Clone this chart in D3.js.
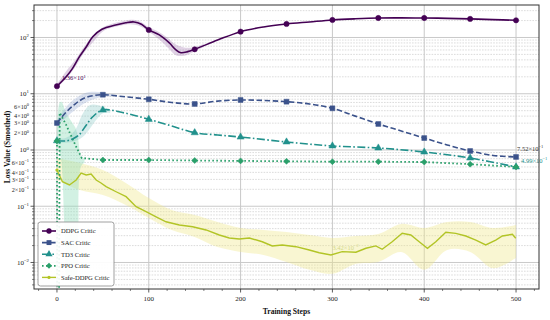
<!DOCTYPE html>
<html><head><meta charset="utf-8">
<script src="https://cdn.jsdelivr.net/npm/d3@7"></script>
<style>body{margin:0;background:#fff}svg{display:block}text{font-family:"Liberation Serif","Times New Roman",serif}</style>
</head><body><svg id="c" width="550" height="320"></svg>
<script>
// ---------------- data ----------------
const seriesNames = ["DDPG Critic","SAC Critic","TD3 Critic","PPO Critic","Safe-DDPG Critic"];
const markerSteps = [0,50,100,150,200,250,300,350,400,450,500];
const xTicks = [0,100,200,300,400,500];

const ddpgSteps  = [0,10,17,24.5,32,39,49,64,75,84,92,100,111.5,122.4,129.7,135,142.3,150,175,200,225,250,275,300,325,350,375,400,425,450,475,500];
const ddpgValues = [13.6,20,28.3,45.6,68.6,103,140,167,183,189,172,136,111,80,60,53.7,56,61.7,90,127,154,174,189,205,215,222,223,222,219,214,208,202];
const ddpgBandSteps = [0,10,20,30,40,50,60,70,80,90,100,110,120,130,140,150,160];
const ddpgBandLo = [12.8,18.5,30,55,85,128,150,164,172,160,126,96,68,48,48,57,68];
const ddpgBandHi = [14.8,25,40,70,112,152,176,192,206,194,152,128,100,74,66,67,77];

const sacSteps  = [0,10,20,30,40,50,75,100,125,150,175,200,225,250,275,300,325,350,375,400,425,450,475,500];
const sacValues = [3.02,4.7,6.6,8.4,9.3,9.6,8.8,7.97,7.0,6.58,7.4,7.74,7.6,7.22,6.58,5.51,4.0,2.9,2.18,1.63,1.23,0.96,0.8,0.752];
const sacBandSteps = [0,10,20,30,40,50,60];
const sacBandLo = [2.7,3.8,5.2,6.8,8.0,8.8,8.9];
const sacBandHi = [3.4,5.8,8.2,10.2,10.8,10.5,9.8];

const td3Steps  = [0,10,17,24,32,39,50,75,100,125,150,175,200,250,300,350,400,450,500];
const td3Values = [1.46,1.45,1.57,1.85,2.78,3.9,5.14,4.5,3.51,2.67,2.03,1.85,1.7,1.39,1.18,1.085,0.92,0.72,0.499];
const td3BandSteps = [0,10,20,28,35,42,50,58];
const td3BandLo = [1.35,1.35,1.45,1.7,2.3,3.3,4.5,4.5];
const td3BandHi = [1.6,1.65,2.3,4.4,6.2,6.4,5.9,5.1];

const ppoSteps  = [0,1,3,10,20,27,50,100,150,200,250,300,350,400,450,500];
const ppoValues = [1.45,1e-9,4.6,2.8,1.23,0.72,0.664,0.664,0.65,0.64,0.63,0.62,0.62,0.61,0.56,0.5];
const ppoBandSteps = [0,3,5,9,12,20,23,26,30];
const ppoBandLo = [1.2,0.9,0.6,0.02,0.005,0.005,0.02,0.5,0.6];
const ppoBandHi = [2.0,7.0,7.2,5.0,4.0,2.5,1.6,0.8,0.7];

const safeSteps  = [0,6,13.6,20.9,26.3,31.8,37.2,42.7,48,53.5,64.4,75.3,86.2,97,108,118.8,133.3,147.8,162.4,176.8,187.7,198.6,209.5,223.6,234.5,245.4,260.3,274.8,285.6,298.4,310.7,325.6,336.5,347.3,354.2,365.1,376,385.4,394.5,403.5,412.6,423.5,434.4,445.3,456.2,467,477.9,485.1,496,499.7];
const safeValues = [0.44,0.273,0.239,0.293,0.39,0.36,0.374,0.293,0.259,0.223,0.181,0.148,0.098,0.080,0.065,0.053,0.0464,0.0433,0.0379,0.0308,0.0273,0.0262,0.0273,0.0234,0.0197,0.0205,0.0191,0.0167,0.0149,0.0136,0.0156,0.0152,0.0179,0.0197,0.0172,0.0234,0.033,0.0308,0.0234,0.0179,0.0234,0.0344,0.033,0.0296,0.0251,0.0205,0.0251,0.0296,0.0317,0.0269];
const safeBandSteps = [0,25,50,75,100,125,150,175,200,225,250,275,300,325,350,375,400,425,450,475,500];
const safeBandLo = [0.293,0.194,0.159,0.105,0.062,0.0379,0.0285,0.0188,0.0154,0.0136,0.0102,0.0074,0.0063,0.0094,0.0102,0.0154,0.0074,0.0167,0.0154,0.0079,0.0121];
const safeBandHi = [0.72,0.587,0.44,0.259,0.14,0.086,0.0699,0.0527,0.0412,0.0379,0.035,0.0308,0.0273,0.0296,0.0321,0.0484,0.0412,0.0527,0.0527,0.0412,0.0464];

const annotations = [
  {text:"1.36×10", sup:"1", step:0, value:13.6, dx:5, dy:-6, color:"#440154"},
  {text:"7.52×10", sup:"−1", step:500, value:0.752, dx:1, dy:-6, color:"#333333"},
  {text:"4.99×10", sup:"−1", step:500, value:0.499, dx:5, dy:-4, color:"#21918c"},
  {text:"3.42×10", sup:"−2", step:300, value:0.0136, dx:0, dy:-5, color:"#d4d98a"}
];

// ---------------- chart ----------------
const svg = d3.select("#c");
const L=34, R=539, T=5, B=289;
const x = d3.scaleLinear().domain([-25,525]).range([L,R]);
const y = d3.scaleLog().domain([0.00338,378]).range([B,T]);

const colors = ["#440154","#3b528b","#21918c","#2a9f6a","#b2c426"];
const bandColors = ["#a57fb5","#8aa3d2","#7cc4c0","#8fdcb8","#f0e889"];

svg.append("defs").append("clipPath").attr("id","clip")
  .append("rect").attr("x",L).attr("y",T).attr("width",R-L).attr("height",B-T);

const grid = svg.append("g");
const minors=[];
for(let e=-3;e<=2;e++) for(let k=2;k<=9;k++){const v=k*Math.pow(10,e); if(v>y.domain()[0]&&v<y.domain()[1]) minors.push(v);}
grid.selectAll(".mg").data(minors).join("line")
  .attr("x1",L).attr("x2",R).attr("y1",d=>y(d)).attr("y2",d=>y(d))
  .attr("stroke","#c4c4c4").attr("stroke-width",0.6).attr("stroke-dasharray","1.6,1.2");
const majors=[1e-2,1e-1,1,10,100];
grid.selectAll(".Mg").data(majors).join("line")
  .attr("x1",L).attr("x2",R).attr("y1",d=>y(d)).attr("y2",d=>y(d))
  .attr("stroke","#c4c4c4").attr("stroke-width",0.9);
grid.selectAll(".vg").data(xTicks).join("line")
  .attr("x1",d=>x(d)).attr("x2",d=>x(d)).attr("y1",T).attr("y2",B)
  .attr("stroke","#c8c8c8").attr("stroke-width",1);

const plot = svg.append("g").attr("clip-path","url(#clip)");

function band(steps,lo,hi,color,op){
  const data=steps.map((s,i)=>({s,lo:lo[i],hi:hi[i]}));
  plot.append("path").datum(data)
    .attr("d",d3.area().x(d=>x(d.s)).y0(d=>y(d.lo)).y1(d=>y(d.hi)).curve(d3.curveCatmullRom))
    .attr("fill",color).attr("opacity",op);
}
band(safeBandSteps,safeBandLo,safeBandHi,bandColors[4],0.38);
band(ppoBandSteps,ppoBandLo,ppoBandHi,bandColors[3],0.4);
band(td3BandSteps,td3BandLo,td3BandHi,bandColors[2],0.3);
band(sacBandSteps,sacBandLo,sacBandHi,bandColors[1],0.3);
band(ddpgBandSteps,ddpgBandLo,ddpgBandHi,bandColors[0],0.35);

const dashes = [null,"5.5,2.6","8,2.4,1.6,2.4","1.6,2.4",null];
const widths = [1.6,1.6,1.6,1.8,1.4];
function series(steps,vals,i,curve){
  const data=steps.map((s,j)=>({s,v:vals[j]}));
  plot.append("path").datum(data)
    .attr("d",d3.line().x(d=>x(d.s)).y(d=>y(d.v)).curve(curve))
    .attr("fill","none").attr("stroke",colors[i]).attr("stroke-width",widths[i])
    .attr("stroke-dasharray",dashes[i]);
}
series(safeSteps,safeValues,4,d3.curveLinear);
series(ppoSteps,ppoValues,3,d3.curveLinear);
series(td3Steps,td3Values,2,d3.curveCatmullRom);
series(sacSteps,sacValues,1,d3.curveCatmullRom);
series(ddpgSteps,ddpgValues,0,d3.curveCatmullRom);

const symbols=[d3.symbolCircle,d3.symbolSquare,d3.symbolTriangle,d3.symbolSquare,d3.symbolCircle];
const symSizes=[22,24,22,18,8];
const rot=[0,0,0,45,0];
function valueAt(steps,vals,s){ const j=steps.indexOf(s); return j>=0?vals[j]:null; }
const markerData=[[ddpgSteps,ddpgValues],[sacSteps,sacValues],[td3Steps,td3Values],[ppoSteps,ppoValues]];
markerData.forEach(([st,va],i)=>{
  markerSteps.forEach(s=>{
    const v=valueAt(st,va,s); if(v==null) return;
    plot.append("path").attr("d",d3.symbol(symbols[i],symSizes[i])())
      .attr("transform",`translate(${x(s)},${y(v)}) rotate(${rot[i]})`)
      .attr("fill",colors[i]).attr("stroke",colors[i]).attr("stroke-width",0.5);
  });
});
plot.append("path").attr("d",d3.symbol(symbols[4],symSizes[4])())
  .attr("transform",`translate(${x(safeSteps[0])},${y(safeValues[0])})`).attr("fill",colors[4]);

annotations.forEach(a=>{
  const px=x(a.step), py=y(a.value);
  const t=svg.append("text").attr("x",px+a.dx).attr("y",py+a.dy)
    .attr("font-size",6.5).attr("fill",a.color);
  t.append("tspan").text(a.text);
  t.append("tspan").attr("dy",-2.6).attr("font-size",4.5).text(a.sup);
});

svg.append("rect").attr("x",L).attr("y",T).attr("width",R-L).attr("height",B-T)
  .attr("fill","none").attr("stroke","#333").attr("stroke-width",1);

const ax=svg.append("g");
ax.selectAll(".xt").data(xTicks).join("line")
  .attr("x1",d=>x(d)).attr("x2",d=>x(d)).attr("y1",B).attr("y2",B+3.5).attr("stroke","#333").attr("stroke-width",0.8);
const xMinor=d3.range(-20,521,20).filter(d=>d%100!==0);
ax.selectAll(".xm").data(xMinor).join("line")
  .attr("x1",d=>x(d)).attr("x2",d=>x(d)).attr("y1",B).attr("y2",B+2).attr("stroke","#333").attr("stroke-width",0.6);
ax.selectAll(".xl").data(xTicks).join("text")
  .attr("x",d=>x(d)).attr("y",B+11.5).attr("text-anchor","middle").attr("font-size",7).attr("fill","#222").text(d=>d);

ax.selectAll(".yt").data(majors).join("line")
  .attr("x1",L-3.5).attr("x2",L).attr("y1",d=>y(d)).attr("y2",d=>y(d)).attr("stroke","#333").attr("stroke-width",0.8);
ax.selectAll(".ym").data(minors).join("line")
  .attr("x1",L-2).attr("x2",L).attr("y1",d=>y(d)).attr("y2",d=>y(d)).attr("stroke","#333").attr("stroke-width",0.6);
const supText=e=>e<0?"−"+(-e):String(e);
majors.forEach(v=>{
  const e=Math.round(Math.log10(v));
  const t=ax.append("text").attr("x",L-5).attr("y",y(v)+2.5).attr("text-anchor","end").attr("font-size",7).attr("fill","#222");
  t.append("tspan").text("10");
  t.append("tspan").attr("dy",-2.8).attr("font-size",4.8).text(supText(e));
});
const minorLabels=[];
[-1,0].forEach(e=>[2,3,4,6].forEach(k=>minorLabels.push({k,e})));
minorLabels.forEach(({k,e})=>{
  const v=k*Math.pow(10,e);
  const t=ax.append("text").attr("x",L-5).attr("y",y(v)+2.3).attr("text-anchor","end").attr("font-size",6.2).attr("fill","#222");
  t.append("tspan").text(k+"×10");
  t.append("tspan").attr("dy",-2.5).attr("font-size",4.3).text(supText(e));
});

svg.append("text").attr("transform",`translate(9.5,${(T+B)/2}) rotate(-90)`).attr("text-anchor","middle")
  .attr("font-size",7.4).attr("font-weight","bold").attr("fill","#111").text("Loss Value (Smoothed)");
svg.append("text").attr("x",(L+R)/2).attr("y",313.5).attr("text-anchor","middle")
  .attr("font-size",7.6).attr("font-weight","bold").attr("fill","#111").text("Training Steps");

const lg=svg.append("g");
lg.append("rect").attr("x",38).attr("y",222).attr("width",76).attr("height",64).attr("rx",2.5)
  .attr("fill","#fff").attr("fill-opacity",0.92).attr("stroke","#888").attr("stroke-width",0.8);
seriesNames.forEach((n,i)=>{
  const yy=231+i*11.6;
  lg.append("line").attr("x1",42).attr("x2",56).attr("y1",yy).attr("y2",yy)
    .attr("stroke",colors[i]).attr("stroke-width",widths[i]).attr("stroke-dasharray",dashes[i]);
  lg.append("path").attr("d",d3.symbol(symbols[i],i===4?8:symSizes[i])())
    .attr("transform",`translate(49,${yy}) rotate(${rot[i]})`).attr("fill",colors[i]);
  lg.append("text").attr("x",61).attr("y",yy+2.3).attr("font-size",6.6).attr("fill","#222").text(n);
});
</script></body></html>
